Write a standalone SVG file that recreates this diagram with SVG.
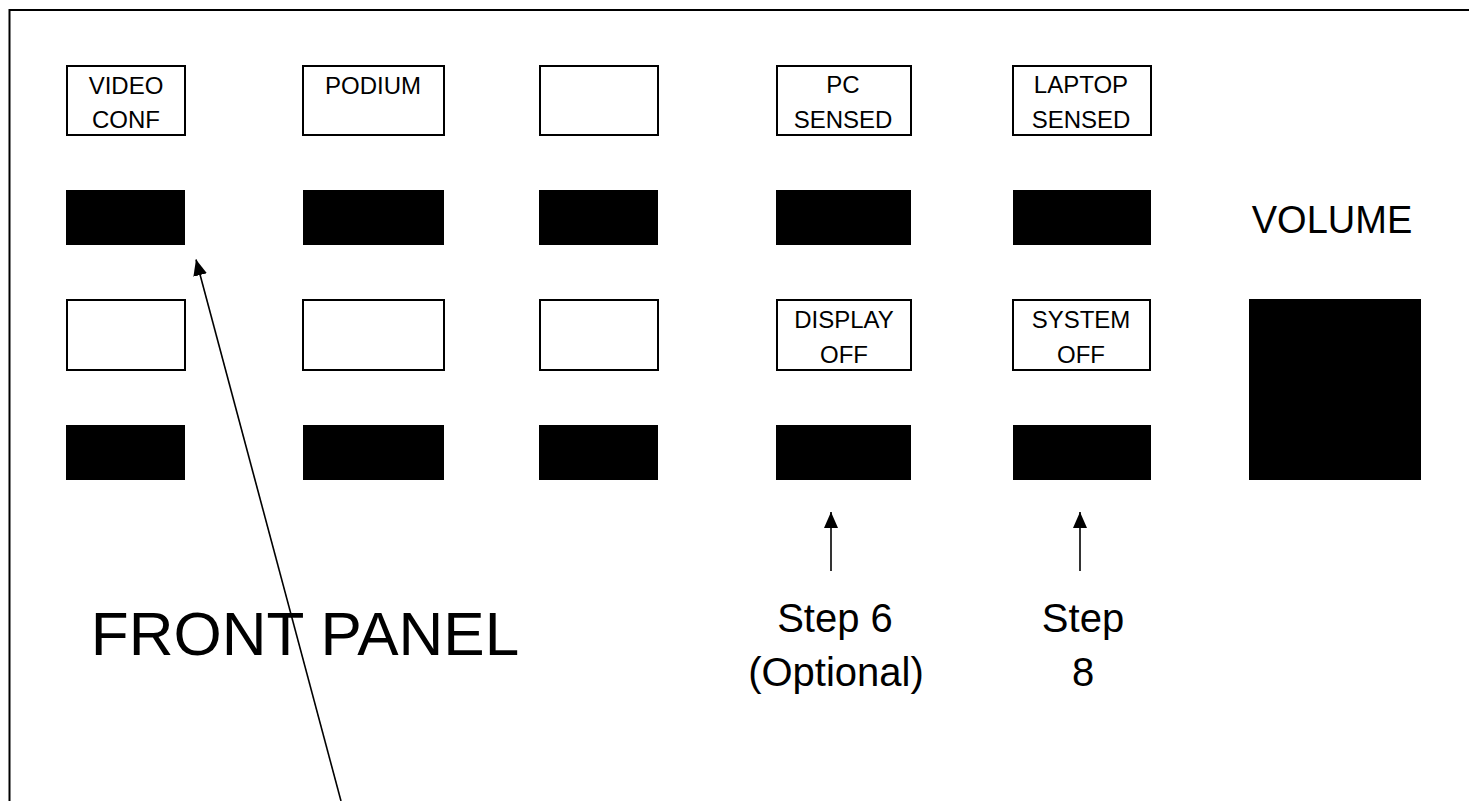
<svg xmlns="http://www.w3.org/2000/svg" width="1469" height="801" viewBox="0 0 1469 801">
<style>
.lbl{fill:#fff;stroke:#000;stroke-width:2}
.btn{fill:#000}
.t{font-family:"Liberation Sans",Arial,sans-serif;font-size:24px;fill:#000;text-anchor:middle}
.big{font-family:"Liberation Sans",Arial,sans-serif;fill:#000;text-anchor:middle}
.conn{stroke:#000;stroke-width:1.6;fill:none;marker-end:url(#ah)}
</style>
<defs>
<marker id="ah" markerUnits="userSpaceOnUse" markerWidth="16" markerHeight="16" viewBox="0 0 16 14" refX="16" refY="7" orient="auto">
<path d="M0,0 L16,7 L0,14 Z" fill="#000"/>
</marker>
</defs>
<rect width="1469" height="801" fill="#fff"/>
<path d="M9.5,801 V10 H1469" fill="none" stroke="#000" stroke-width="2"/>

<g id="video-conf"><rect class="lbl" x="67" y="66" width="118" height="69"/><text class="t" x="126" y="94">VIDEO</text><text class="t" x="126" y="128">CONF</text></g>
<g id="podium"><rect class="lbl" x="303" y="66" width="141" height="69"/><text class="t" x="373" y="94">PODIUM</text></g>
<g id="blank1"><rect class="lbl" x="540" y="66" width="118" height="69"/></g>
<g id="pc-sensed"><rect class="lbl" x="777" y="66" width="134" height="69"/><text class="t" x="843" y="93">PC</text><text class="t" x="843" y="127.5">SENSED</text></g>
<g id="laptop-sensed"><rect class="lbl" x="1013" y="66" width="138" height="69"/><text class="t" x="1081" y="93">LAPTOP</text><text class="t" x="1081" y="127.5">SENSED</text></g>

<g id="btn-1-1"><rect class="btn" x="66" y="190" width="119" height="55"/></g>
<g id="btn-1-2"><rect class="btn" x="303" y="190" width="141" height="55"/></g>
<g id="btn-1-3"><rect class="btn" x="539" y="190" width="119" height="55"/></g>
<g id="btn-1-4"><rect class="btn" x="776" y="190" width="135" height="55"/></g>
<g id="btn-1-5"><rect class="btn" x="1013" y="190" width="138" height="55"/></g>

<g id="volume-label"><text class="big" x="1332" y="233" font-size="38">VOLUME</text></g>

<g id="blank2"><rect class="lbl" x="67" y="300" width="118" height="70"/></g>
<g id="blank3"><rect class="lbl" x="303" y="300" width="141" height="70"/></g>
<g id="blank4"><rect class="lbl" x="540" y="300" width="118" height="70"/></g>
<g id="display-off"><rect class="lbl" x="777" y="300" width="134" height="70"/><text class="t" x="844" y="328">DISPLAY</text><text class="t" x="844" y="362.5">OFF</text></g>
<g id="system-off"><rect class="lbl" x="1013" y="300" width="137" height="70"/><text class="t" x="1081" y="328">SYSTEM</text><text class="t" x="1081" y="362.5">OFF</text></g>

<g id="btn-2-1"><rect class="btn" x="66" y="425" width="119" height="55"/></g>
<g id="btn-2-2"><rect class="btn" x="303" y="425" width="141" height="55"/></g>
<g id="btn-2-3"><rect class="btn" x="539" y="425" width="119" height="55"/></g>
<g id="btn-2-4"><rect class="btn" x="776" y="425" width="135" height="55"/></g>
<g id="btn-2-5"><rect class="btn" x="1013" y="425" width="138" height="55"/></g>

<g id="volume-knob"><rect class="btn" x="1249" y="299" width="172" height="181"/></g>

<g id="front-panel"><text class="big" x="305" y="655" font-size="62">FRONT PANEL</text></g>
<g id="step6"><text class="big" x="835" y="632" font-size="40">Step 6</text><text class="big" x="836" y="686" font-size="40">(Optional)</text></g>
<g id="step8"><text class="big" x="1083" y="632" font-size="40">Step</text><text class="big" x="1083" y="686" font-size="40">8</text></g>

<g id="connectors">
<line class="conn" x1="831" y1="571" x2="831" y2="512"/>
<line class="conn" x1="1080" y1="571" x2="1080" y2="512"/>
<line class="conn" x1="341" y1="801" x2="196" y2="259.5"/>
</g>
</svg>
